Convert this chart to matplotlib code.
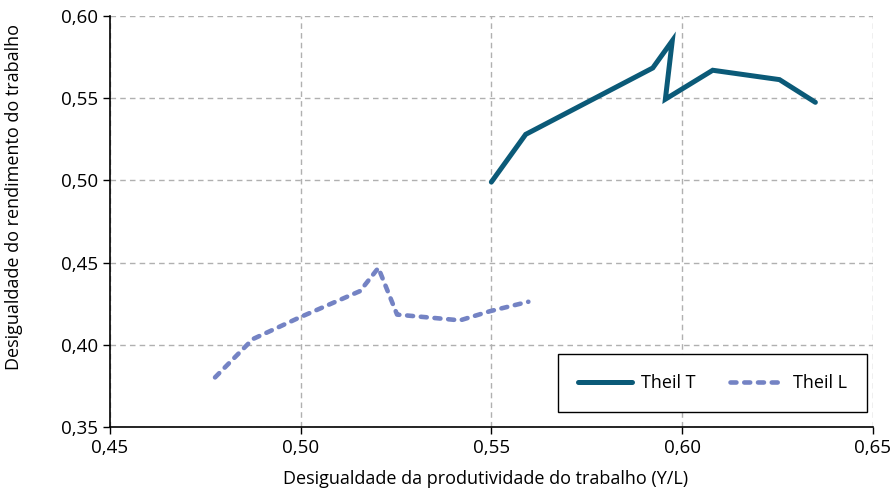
import matplotlib
matplotlib.use("Agg")
import matplotlib.pyplot as plt
from matplotlib.ticker import FuncFormatter

# dados
theil_t_x = [0.550, 0.559, 0.5923, 0.5974, 0.5956, 0.608, 0.6255, 0.6349]
theil_t_y = [0.499, 0.528, 0.5684, 0.5849, 0.5494, 0.567, 0.5613, 0.5475]
theil_l_x = [0.4776, 0.4875, 0.4995, 0.5156, 0.5204, 0.5253, 0.5418, 0.5497, 0.5597]
theil_l_y = [0.3802, 0.4035, 0.4164, 0.4327, 0.4468, 0.4184, 0.4149, 0.4205, 0.4262]

x_ticks = [0.45, 0.50, 0.55, 0.60, 0.65]
y_ticks = [0.35, 0.40, 0.45, 0.50, 0.55, 0.60]

plt.rcParams['font.family'] = ['Open Sans', 'DejaVu Sans']

fig = plt.figure(figsize=(8.94, 4.92), dpi=100)
ax = fig.add_axes([0.1227, 0.132, 0.8538, 0.8355])

ax.plot(theil_t_x, theil_t_y, color='#0b5a78', lw=3.6, solid_capstyle='round',
        solid_joinstyle='miter', label='Theil T', zorder=3)
ax.plot(theil_l_x, theil_l_y, color='#7483c4', lw=3.3, dashes=(1.3, 1.7),
        dash_capstyle='round', label='Theil L', zorder=3)

ax.set_xlim(0.45, 0.65)
ax.set_ylim(0.35, 0.60)
ax.set_xticks(x_ticks)
ax.set_yticks(y_ticks)
fmt = FuncFormatter(lambda v, p: ('%.2f' % v).replace('.', ','))
ax.xaxis.set_major_formatter(fmt)
ax.yaxis.set_major_formatter(fmt)
ax.tick_params(direction='out', length=5, width=1, labelsize=13.5, colors='black')

ax.grid(True, color='#b0b0b0', linestyle=(0, (4, 3)), linewidth=1)
ax.set_axisbelow(True)
for s in ['top', 'right']:
    ax.spines[s].set_visible(False)
for s in ['left', 'bottom']:
    ax.spines[s].set_linewidth(1.2)

ax.set_xlabel('Desigualdade da produtividade do trabalho (Y/L)', fontsize=13)
ax.set_ylabel('Desigualdade do rendimento do trabalho', fontsize=13)
ax.xaxis.set_label_coords(0.492, -0.105)
ax.yaxis.set_label_coords(-0.1136, 0.56)

leg = ax.legend(loc='center', bbox_to_anchor=(0.591, 0.039, 0.3985, 0.136),
                ncol=2, fontsize=13, frameon=True, fancybox=False,
                edgecolor='black', handlelength=3.0, handletextpad=0.5,
                columnspacing=1.9, borderpad=1.1, borderaxespad=0)
leg.get_frame().set_linewidth(1.0)
leg.get_frame().set_alpha(1)

fig.savefig('out.png', dpi=100)
